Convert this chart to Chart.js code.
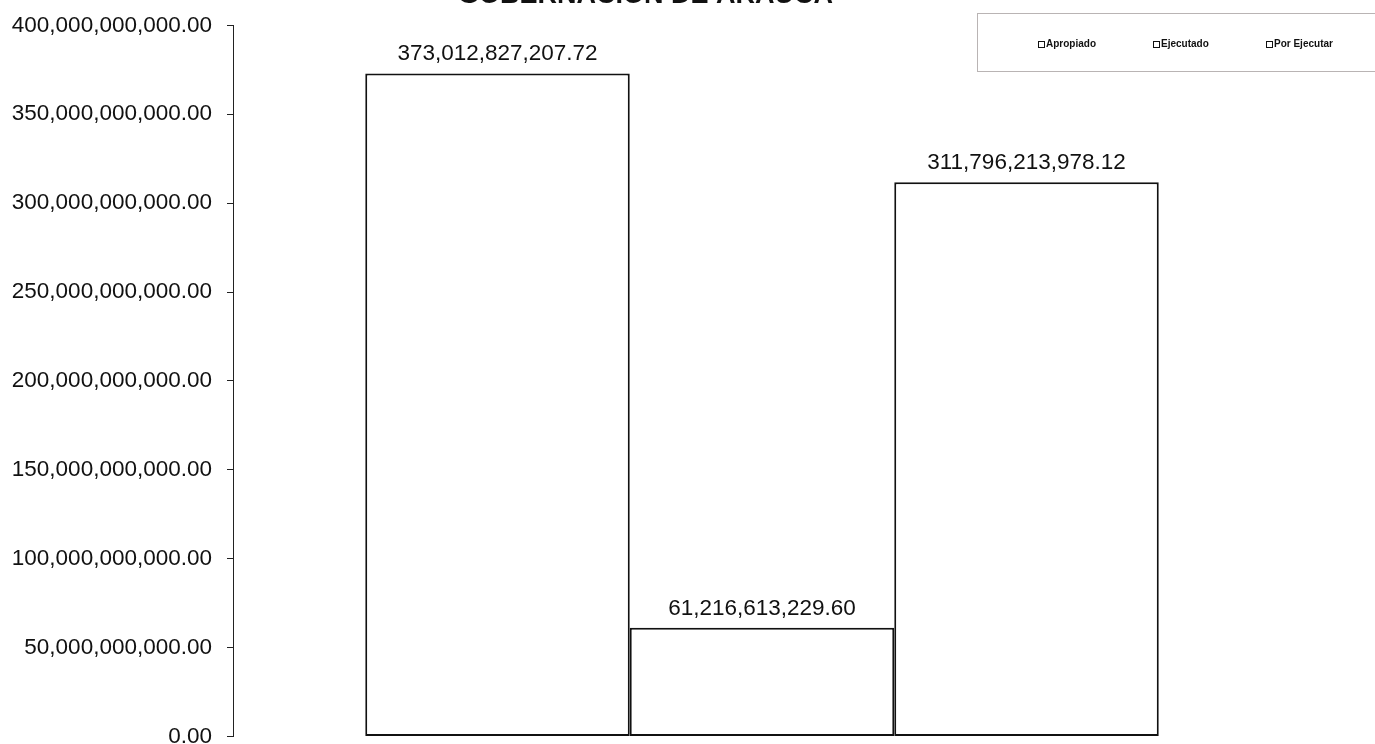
<!DOCTYPE html>
<html>
<head>
<meta charset="utf-8">
<script src="https://cdn.jsdelivr.net/npm/chart.js@4/dist/chart.umd.min.js"></script>
<style>
  html, body { margin: 0; padding: 0; background: #fff; overflow: hidden; }
  #wrap { position: absolute; left: 0; top: -21px; width: 1375px; height: 786px; }
  #legend {
    position: absolute; left: 977px; top: 13px; width: 420px; height: 59px;
    border: 1px solid #b9b4b4; box-sizing: border-box;
    font-family: "Liberation Sans", Arial, sans-serif; font-size: 10px; font-weight: bold; color: #111;
  }
  #legend span { position: absolute; top: 24px; white-space: nowrap; }
  #legend i {
    display: inline-block; width: 5px; height: 5px; border: 1.5px solid #111;
    background: #fff; margin-right: 1px; vertical-align: -1px;
  }
</style>
</head>
<body>
<div id="wrap"><canvas id="gobChart"></canvas></div>
<div id="legend"></div>
<script>
// data
var title = 'GOBERNACION DE ARAUCA';
var seriesNames = ['Apropiado', 'Ejecutado', 'Por Ejecutar'];
var seriesValues = [373012827207.72, 61216613229.60, 311796213978.12];
var yTicks = [0, 50000000000, 100000000000, 150000000000, 200000000000, 250000000000, 300000000000, 350000000000, 400000000000];

function money(v) {
    return v.toLocaleString('en-US', { minimumFractionDigits: 2, maximumFractionDigits: 2 });
}

// legend (html, top right box)
var legendLeft = [60, 175, 288];
var legend = document.getElementById('legend');
seriesNames.forEach(function (name, i) {
    var s = document.createElement('span');
    s.style.left = legendLeft[i] + 'px';
    s.innerHTML = '<i></i>' + name;
    legend.appendChild(s);
});

// value labels above each bar
var valueLabels = {
    id: 'valueLabels',
    afterDatasetsDraw: function (chart) {
        var ctx = chart.ctx;
        ctx.save();
        ctx.font = '22.5px "Liberation Sans", Arial, sans-serif';
        ctx.fillStyle = '#111';
        ctx.textAlign = 'center';
        ctx.textBaseline = 'bottom';
        chart.data.datasets.forEach(function (ds, i) {
            var bar = chart.getDatasetMeta(i).data[0];
            ctx.fillText(money(ds.data[0]), bar.x, bar.y - 8);
        });
        ctx.restore();
    }
};

var canvas = document.getElementById('gobChart');
canvas.width = 1375;
canvas.height = 786;

var chart = new Chart(canvas.getContext('2d'), {
    type: 'bar',
    data: {
        labels: [''],
        datasets: seriesNames.map(function (name, i) {
            return {
                label: name,
                data: [seriesValues[i]],
                backgroundColor: '#ffffff',
                borderColor: '#111111',
                borderWidth: 2,
                borderSkipped: false
            };
        })
    },
    options: {
        responsive: false,
        animation: false,
        layout: { padding: { left: 0, right: 84, top: 0, bottom: 0 } },
        datasets: { bar: { categoryPercentage: 0.75, barPercentage: 1 } },
        plugins: {
            legend: { display: false },
            tooltip: { enabled: false },
            title: {
                display: true,
                text: title,
                color: '#111',
                font: { family: '"Liberation Sans", Arial, sans-serif', size: 27, weight: 'bold' },
                padding: { top: 0, bottom: 14 }
            }
        },
        scales: {
            x: { display: false },
            y: {
                min: 0,
                max: 400000000000,
                afterBuildTicks: function (axis) {
                    axis.ticks = yTicks.map(function (v) { return { value: v }; });
                },
                afterFit: function (axis) { axis.width = 233; },
                border: { display: true, color: '#222', width: 1 },
                grid: { drawOnChartArea: false, drawTicks: true, tickLength: 6, color: '#222' },
                ticks: {
                    padding: 15,
                    color: '#111',
                    font: { family: '"Liberation Sans", Arial, sans-serif', size: 22.5 },
                    callback: function (v) { return money(v); }
                }
            }
        }
    },
    plugins: [valueLabels]
});
</script>
</body>
</html>
